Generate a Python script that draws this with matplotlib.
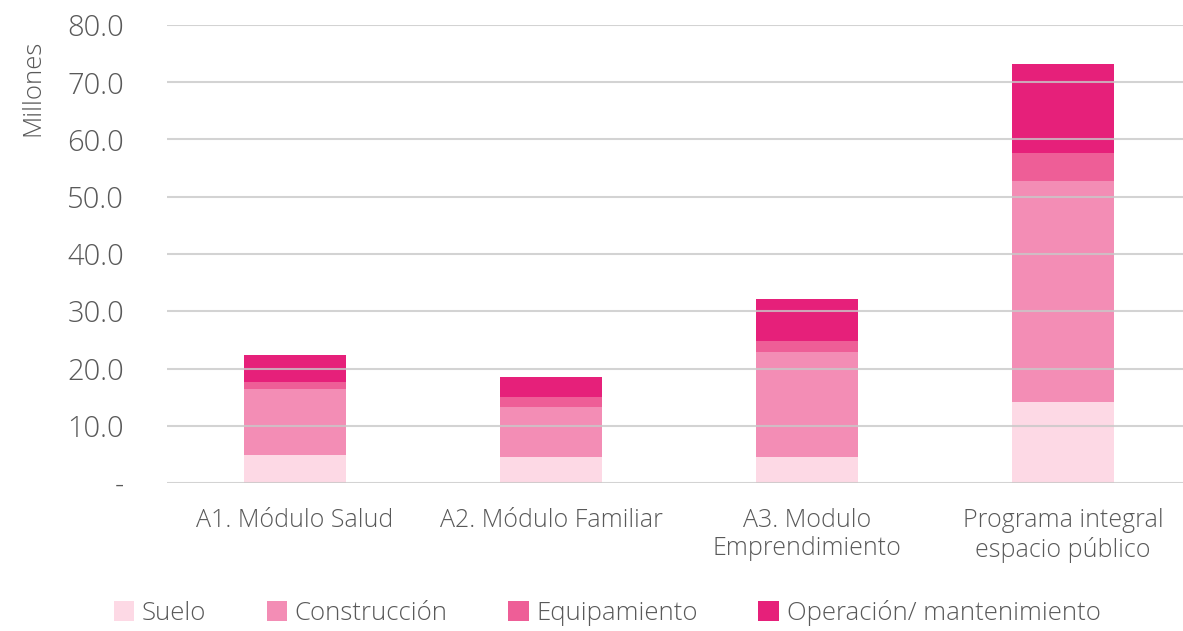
import matplotlib.pyplot as plt
from matplotlib.patches import Patch

categories = ["A1. Módulo Salud", "A2. Módulo Familiar",
              "A3. Modulo\nEmprendimiento", "Programa integral\nespacio público"]
suelo = [4.9, 4.5, 4.6, 14.1]
construccion = [11.5, 8.7, 18.2, 38.6]
equipamiento = [1.3, 1.8, 2.0, 4.9]
operacion = [4.7, 3.5, 7.4, 15.6]
series_names = ["Suelo", "Construcción", "Equipamiento", "Operación/ mantenimiento"]
yticks = [0, 10, 20, 30, 40, 50, 60, 70, 80]
ytick_labels = ["-", "10.0", "20.0", "30.0", "40.0", "50.0", "60.0", "70.0", "80.0"]

colors = ["#FDD9E5", "#F38DB5", "#EE5E97", "#E6207A"]
text_color = "#595959"
plt.rcParams['font.family'] = ['Open Sans', 'DejaVu Sans']

W, H = 1183, 631
fig = plt.figure(figsize=(W / 100, H / 100), dpi=100)
left, right, top, bottom = 167, 1191, 25, 483
ax = fig.add_axes([left / W, 1 - bottom / H, (right - left) / W, (bottom - top) / H])

x = list(range(len(categories)))
series = [suelo, construccion, equipamiento, operacion]
base = [0.0] * len(categories)
for vals, col, name in zip(series, colors, series_names):
    ax.bar(x, vals, bottom=base, width=0.4, color=col, label=name, zorder=2,
           edgecolor="none")
    base = [b + v for b, v in zip(base, vals)]

ax.set_xlim(-0.5, len(categories) - 0.5)
ax.set_ylim(0, 80)
ax.set_yticks(yticks)
ax.set_yticklabels(ytick_labels)
ax.set_xticks(x)
ax.set_xticklabels(categories, linespacing=1.18)
ax.yaxis.grid(True, color="#C8C8C8", linewidth=1.5, alpha=0.8, zorder=3)
ax.set_axisbelow(False)
for s in ax.spines.values():
    s.set_visible(False)
ax.tick_params(axis='y', length=0, pad=31, labelsize=21, labelcolor=text_color)
ax.tick_params(axis='x', length=0, pad=18, labelsize=18, labelcolor=text_color)
for lbl in ax.get_yticklabels() + ax.get_xticklabels():
    lbl.set_fontweight('light')

fig.text(33 / W, 1 - 88 / H, "Millones", rotation=90, ha='center', va='center',
         fontsize=18.5, color=text_color, fontweight='light')

handles = [Patch(facecolor=c, edgecolor='none') for c in colors]
fig.legend(handles, series_names, loc='center', bbox_to_anchor=(607 / W, 1 - 613 / H),
           ncol=4, frameon=False, labelcolor=text_color,
           handlelength=0.8, handleheight=0.8, handletextpad=0.3, columnspacing=2.35,
           prop={'weight': 'light', 'size': 18.5})

fig.savefig("out.png", dpi=100)
